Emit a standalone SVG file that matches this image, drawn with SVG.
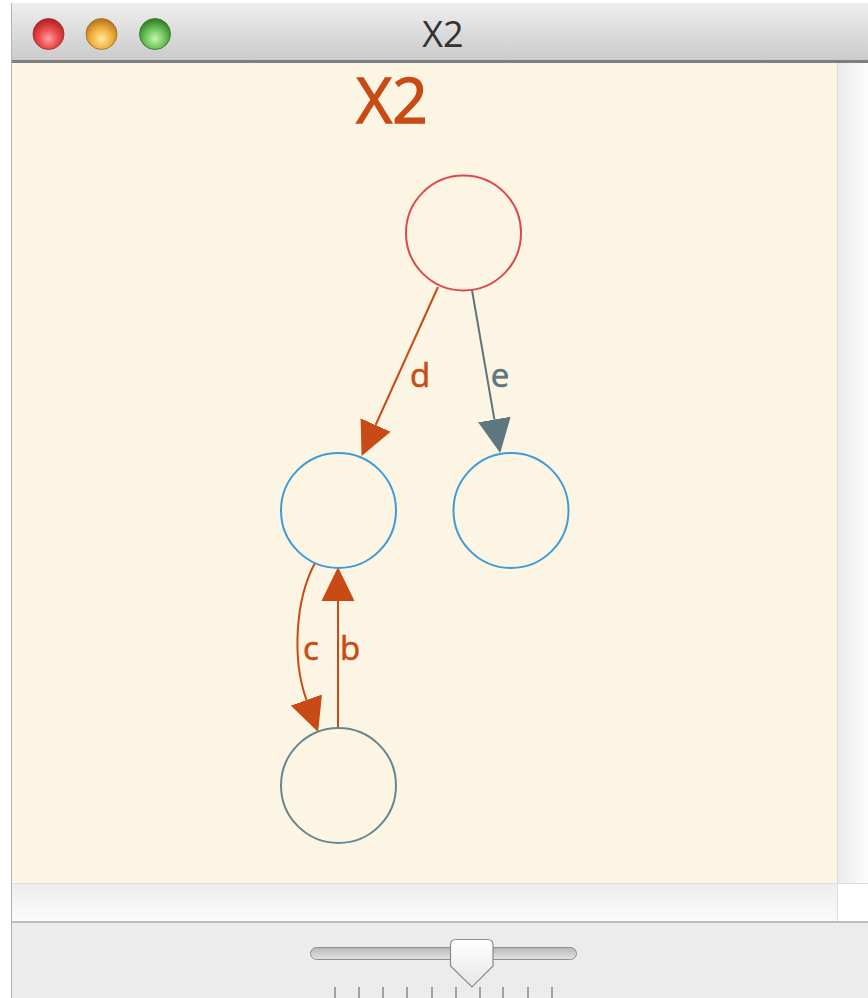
<svg xmlns="http://www.w3.org/2000/svg" width="868" height="998" viewBox="0 0 868 998">
  <defs>
    <linearGradient id="titlebar" x1="0" y1="0" x2="0" y2="1">
      <stop offset="0" stop-color="#EEEEEE"/>
      <stop offset="1" stop-color="#C9C9C9"/>
    </linearGradient>
    <linearGradient id="gutter" x1="0" y1="0" x2="1" y2="0">
      <stop offset="0" stop-color="#EAEAEA"/>
      <stop offset="1" stop-color="#FCFCFC"/>
    </linearGradient>
    <linearGradient id="strip" x1="0" y1="0" x2="0" y2="1">
      <stop offset="0" stop-color="#EDEDED"/>
      <stop offset="1" stop-color="#FBFBFB"/>
    </linearGradient>
    <linearGradient id="track" x1="0" y1="0" x2="0" y2="1">
      <stop offset="0" stop-color="#B8B8B8"/>
      <stop offset="1" stop-color="#E2E2E2"/>
    </linearGradient>
    <linearGradient id="thumb" x1="0" y1="0" x2="0" y2="1">
      <stop offset="0" stop-color="#FFFFFF"/>
      <stop offset="1" stop-color="#E6E6E6"/>
    </linearGradient>
    <radialGradient id="gRed" cx="0.5" cy="0.65" r="0.6">
      <stop offset="0" stop-color="#FFA0A0"/>
      <stop offset="0.55" stop-color="#EA4848"/>
      <stop offset="1" stop-color="#B02828"/>
    </radialGradient>
    <radialGradient id="gOrange" cx="0.5" cy="0.65" r="0.6">
      <stop offset="0" stop-color="#FFE8A0"/>
      <stop offset="0.55" stop-color="#F2B040"/>
      <stop offset="1" stop-color="#B87A20"/>
    </radialGradient>
    <radialGradient id="gGreen" cx="0.5" cy="0.65" r="0.6">
      <stop offset="0" stop-color="#C8F5B0"/>
      <stop offset="0.55" stop-color="#6CC258"/>
      <stop offset="1" stop-color="#358228"/>
    </radialGradient>
    <marker id="arrOrange" markerUnits="userSpaceOnUse" markerWidth="34" markerHeight="34" refX="0" refY="16.5" orient="auto" viewBox="0 0 34 33">
      <path d="M0,0 L34,16.5 L0,33 Z" fill="#C84B16"/>
    </marker>
    <marker id="arrGray" markerUnits="userSpaceOnUse" markerWidth="34" markerHeight="34" refX="0" refY="16.5" orient="auto" viewBox="0 0 34 33">
      <path d="M0,0 L34,16.5 L0,33 Z" fill="#5E7680"/>
    </marker>
  </defs>
  <style>
    .node { fill: none; stroke-width: 2; }
    .edge { fill: none; stroke-width: 2; }
    .orange { stroke: #C84B16; }
    .gray { stroke: #5E7680; }
    .lbl { font-family: "Open Sans", "Noto Sans", sans-serif; font-size: 33px; stroke-width: 0.6; }
    .tick { stroke: #8A8A8A; stroke-width: 1.5; }
  </style>

  <!-- window chrome -->
  <rect x="0" y="0" width="868" height="998" fill="#FFFFFF"/>
  <rect x="11" y="3" width="857" height="60" fill="url(#titlebar)"/>
  <rect x="11" y="60" width="857" height="3" fill="#7E7E7E"/>
  <rect x="11" y="63" width="826" height="820" fill="#FDF5E3"/>
  <rect x="837" y="63" width="31" height="820" fill="url(#gutter)"/>
  <line x1="837.5" y1="63" x2="837.5" y2="922" stroke="#DADADA" stroke-width="1"/>
  <rect x="11" y="883" width="826" height="39" fill="url(#strip)"/>
  <rect x="838" y="883" width="30" height="39" fill="#FFFFFF"/>
  <line x1="11" y1="883.5" x2="868" y2="883.5" stroke="#DDDDDD" stroke-width="1"/>
  <rect x="11" y="921" width="857" height="2" fill="#BDBDBD"/>
  <rect x="11" y="923" width="857" height="75" fill="#ECECEC"/>
  <line x1="11.5" y1="3" x2="11.5" y2="998" stroke="#B5B5B5" stroke-width="1"/>

  <!-- traffic lights -->
  <circle cx="48.5" cy="34" r="15.5" fill="url(#gRed)" stroke="#9A2A2A" stroke-width="0.8"/>
  <circle cx="101.5" cy="34" r="15.5" fill="url(#gOrange)" stroke="#A06A20" stroke-width="0.8"/>
  <circle cx="155" cy="34" r="15.5" fill="url(#gGreen)" stroke="#2E6E24" stroke-width="0.8"/>
  <text x="443" y="47" text-anchor="middle" font-family="Open Sans, Noto Sans, sans-serif" font-size="36" fill="#333333">X2</text>

  <!-- diagram title -->
  <text x="392" y="123" text-anchor="middle" font-family="Open Sans, Noto Sans, sans-serif" font-size="62" fill="#C84B16" stroke="#C84B16" stroke-width="1.4">X2</text>

  <!-- connectors -->
  <g id="connectors">
    <path class="edge orange" d="M438,287 L375.6,425" marker-end="url(#arrOrange)"/>
    <path class="edge gray" d="M472,290 L494.4,419.5" marker-end="url(#arrGray)"/>
    <path class="edge orange" d="M315,563 C295,600 292,660 306.5,700" marker-end="url(#arrOrange)"/>
    <path class="edge orange" d="M338,727 L338,601" marker-end="url(#arrOrange)"/>
    <text class="lbl" x="420" y="387" text-anchor="middle" fill="#C84B16" stroke="#C84B16">d</text>
    <text class="lbl" x="500" y="387" text-anchor="middle" fill="#5E7680" stroke="#5E7680">e</text>
    <text class="lbl" x="311" y="660" text-anchor="middle" fill="#C84B16" stroke="#C84B16">c</text>
    <text class="lbl" x="350" y="660" text-anchor="middle" fill="#C84B16" stroke="#C84B16">b</text>
  </g>

  <!-- nodes -->
  <g id="node-top"><circle class="node" cx="463.5" cy="233" r="57.5" stroke="#E0474C"/></g>
  <g id="node-left"><circle class="node" cx="338.5" cy="510.5" r="57.5" stroke="#3D9BDA"/></g>
  <g id="node-right"><circle class="node" cx="511" cy="510.5" r="57.5" stroke="#3D9BDA"/></g>
  <g id="node-bottom"><circle class="node" cx="338.5" cy="785.5" r="57.5" stroke="#668690"/></g>

  <!-- slider -->
  <rect x="310.5" y="947.5" width="266" height="12" rx="6" fill="url(#track)" stroke="#8E8E8E" stroke-width="1"/>
  <path d="M450.5,945 Q450.5,939.5 456,939.5 L487.5,939.5 Q493,939.5 493,945 L493,966 L472,987 L450.5,966 Z" fill="url(#thumb)" stroke="#8A8A8A" stroke-width="1.2"/>
  <g>
    <line class="tick" x1="335" y1="987" x2="335" y2="998"/>
    <line class="tick" x1="359" y1="987" x2="359" y2="998"/>
    <line class="tick" x1="383" y1="987" x2="383" y2="998"/>
    <line class="tick" x1="407" y1="987" x2="407" y2="998"/>
    <line class="tick" x1="432" y1="987" x2="432" y2="998"/>
    <line class="tick" x1="456" y1="987" x2="456" y2="998"/>
    <line class="tick" x1="480" y1="987" x2="480" y2="998"/>
    <line class="tick" x1="503" y1="987" x2="503" y2="998"/>
    <line class="tick" x1="528" y1="987" x2="528" y2="998"/>
    <line class="tick" x1="552" y1="987" x2="552" y2="998"/>
  </g>
</svg>
